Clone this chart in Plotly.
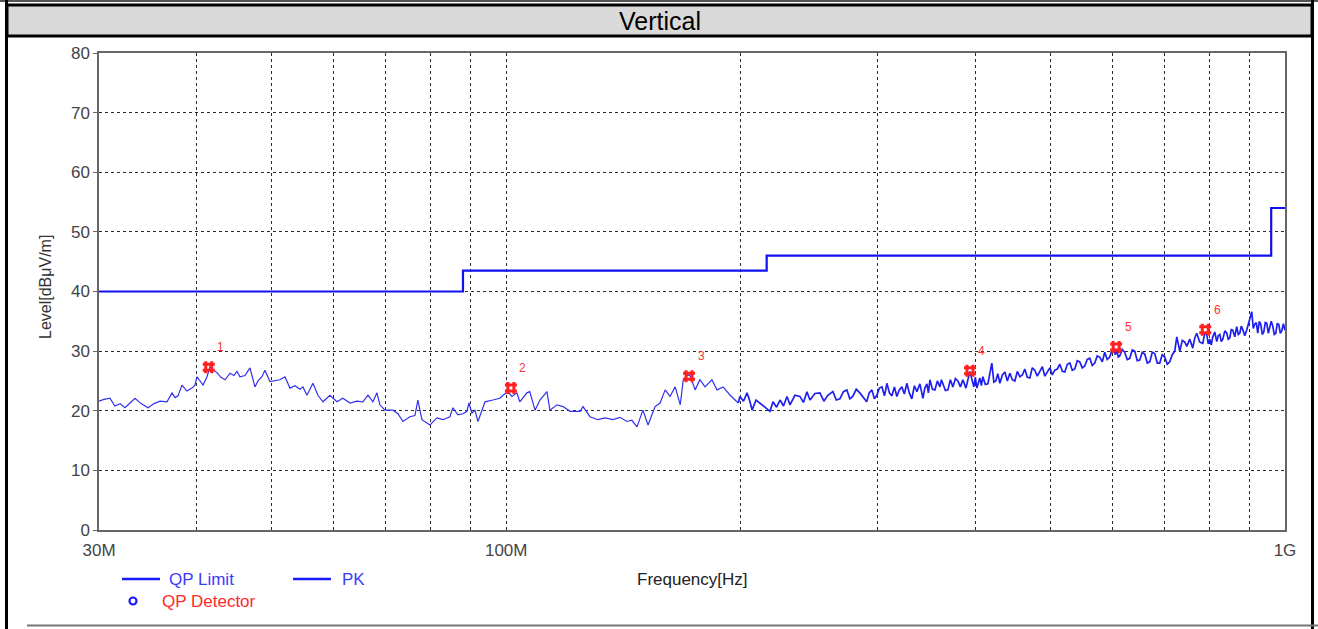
import math
import plotly.graph_objects as go

# ---------------- data ----------------
# PK trace, 30 MHz - 200 MHz
pk_freq_low_mhz = [
    30.0, 30.44, 30.99, 31.44, 31.93, 32.4, 32.88, 33.37, 33.97, 34.68,
    35.3, 35.93, 36.68, 37.23, 37.57, 37.9, 38.34, 38.91, 39.49, 39.84,
    40.08, 40.8, 41.29, 41.65, 42.02, 42.52, 43.03, 43.55, 44.19, 44.71,
    45.11, 45.51, 46.19, 46.88, 47.57, 48.0, 48.57, 49.0, 49.74, 50.48,
    51.22, 51.99, 52.76, 53.55, 54.34, 54.83, 55.48, 56.47, 57.31, 58.17,
    59.38, 60.63, 61.7, 63.0, 64.31, 65.46, 66.45, 67.43, 68.23, 68.84,
    69.86, 71.54, 72.6, 73.69, 75.22, 76.34, 77.02, 77.94, 79.8, 81.47,
    82.93, 84.67, 85.42, 86.69, 87.98, 89.03, 89.56, 90.36, 91.17, 91.99,
    93.92, 96.13, 98.15, 99.04, 100.5, 101.7, 103.2, 104.1, 106.3, 107.2,
    108.9, 110.5, 112.8, 113.8, 116.2, 118.3, 120.8, 124.4, 125.5, 128.1,
    131.1, 133.9, 137.1, 140.0, 142.9, 145.0, 147.2, 149.8, 152.1, 155.3,
    157.6, 160.0, 162.3, 164.8, 167.3, 168.8, 170.8, 172.1, 174.8, 177.3,
    180.0, 183.7, 186.5, 189.9, 193.9, 198.6,
]
pk_level_low = [
    21.6, 21.9, 22.1, 20.8, 21.2, 20.5, 21.3, 22.1, 21.2, 20.5,
    21.2, 21.6, 21.5, 23.0, 22.2, 22.5, 24.3, 23.3, 23.8, 24.3,
    25.7, 24.3, 25.7, 27.4, 26.9, 26.4, 25.6, 25.2, 26.3, 25.9,
    26.6, 25.7, 25.9, 27.2, 24.0, 25.0, 25.7, 26.8, 24.9, 25.0,
    25.2, 25.7, 23.8, 24.2, 23.6, 24.0, 22.6, 24.6, 22.6, 21.5,
    22.6, 21.5, 22.1, 21.3, 21.6, 21.5, 22.6, 21.5, 23.0, 21.0,
    20.1, 20.1, 19.5, 18.2, 19.0, 19.2, 21.8, 18.5, 17.6, 18.8,
    18.5, 19.0, 20.5, 19.3, 19.5, 19.9, 21.3, 19.6, 20.1, 18.2,
    21.5, 21.8, 22.1, 22.6, 23.2, 22.4, 23.0, 21.5, 23.0, 23.2,
    20.1, 21.8, 23.2, 20.1, 21.0, 20.7, 19.9, 19.9, 20.7, 19.0,
    18.5, 18.8, 18.5, 18.9, 18.2, 18.4, 17.3, 20.1, 17.6, 20.7,
    21.3, 23.5, 22.4, 24.0, 21.0, 25.2, 25.9, 26.0, 23.5, 25.2,
    24.0, 25.2, 23.5, 24.0, 22.6, 21.3,
]
# PK trace, 200 MHz - 1 GHz
pk_freq_high_mhz = [
    199.6, 201.7, 203.8, 205.3, 206.9, 209.3, 211.8, 214.9, 218.1, 220.1,
    222.4, 224.7, 227.0, 229.4, 231.4, 234.8, 238.3, 240.8, 243.3, 245.5,
    249.1, 252.8, 255.8, 258.8, 262.7, 265.4, 268.2, 271.0, 273.8, 276.2,
    278.6, 281.5, 284.5, 287.4, 290.3, 292.5, 294.8, 297.0, 299.2, 301.4,
    303.7, 306.0, 308.2, 310.5, 312.8, 315.1, 317.4, 319.7, 322.1, 324.5,
    326.9, 329.3, 331.8, 334.3, 336.8, 339.8, 342.8, 344.8, 346.9, 348.4,
    350.0, 352.6, 355.2, 357.8, 360.5, 362.1, 363.7, 366.4, 369.1, 371.8,
    374.6, 377.4, 380.2, 383.0, 385.8, 387.5, 389.3, 393.9, 398.5, 400.3,
    402.1, 405.7, 407.5, 409.3, 412.3, 415.4, 417.8, 420.3, 422.8, 425.3,
    427.8, 430.4, 433.6, 436.8, 440.0, 443.3, 446.6, 449.9, 453.2, 456.6,
    460.0, 463.3, 466.8, 470.3, 473.7, 477.2, 480.8, 484.4, 488.0, 491.6,
    495.2, 498.9, 502.6, 506.3, 510.1, 513.9, 517.7, 521.5, 525.4, 529.3,
    533.2, 537.1, 541.1, 545.1, 549.1, 553.2, 557.3, 561.5, 565.6, 569.8,
    574.0, 578.3, 582.6, 586.9, 591.2, 595.6, 599.1, 602.7, 605.4, 608.1,
    610.8, 613.5, 618.0, 622.6, 627.2, 631.9, 636.6, 641.3, 646.1, 650.9,
    655.7, 660.6, 665.5, 670.5, 675.4, 680.4, 685.4, 690.5, 695.6, 700.8,
    706.0, 711.3, 716.5, 721.8, 726.2, 732.7, 738.1, 743.6, 748.0, 754.6,
    761.3, 765.8, 770.3, 777.3, 784.2, 788.8, 793.5, 797.0, 800.6, 804.1,
    807.7, 812.5, 817.3, 821.0, 824.7, 828.3, 832.0, 837.0, 841.9, 845.6,
    849.3, 853.1, 856.9, 862.0, 867.0, 871.0, 874.9, 878.7, 882.6, 887.9,
    893.2, 898.4, 906.4, 910.4, 914.5, 918.6, 922.6, 926.8, 930.9, 935.0,
    939.2, 943.4, 947.5, 951.8, 956.0, 960.2, 964.5, 968.8, 973.1, 977.4,
    981.8, 986.2, 990.5, 995.2, 1000.0,
]
pk_level_high = [
    22.4, 21.6, 23.0, 21.8, 20.1, 21.8, 21.3, 20.6, 19.9, 21.5,
    20.6, 21.8, 20.8, 22.4, 21.0, 22.6, 22.4, 21.4, 23.2, 21.8,
    22.9, 23.0, 21.6, 22.6, 23.2, 21.8, 22.0, 23.2, 23.5, 22.0,
    22.4, 23.6, 23.0, 22.2, 21.5, 23.0, 23.5, 22.0, 22.6, 23.8,
    24.0, 22.5, 24.6, 23.0, 22.5, 24.0, 22.4, 23.5, 24.0, 22.8,
    24.6, 23.0, 22.0, 24.2, 23.2, 24.5, 22.1, 23.8, 24.5, 23.0,
    25.2, 23.6, 23.5, 25.0, 24.0, 25.2, 24.6, 23.4, 23.5, 25.2,
    24.0, 25.4, 25.0, 24.0, 25.2, 24.5, 23.8, 26.6, 24.0, 25.6,
    23.8, 25.5, 24.2, 25.7, 24.4, 24.5, 26.0, 28.0, 24.8, 25.0,
    26.2, 24.6, 26.0, 26.5, 25.0, 26.3, 25.2, 25.0, 26.6, 25.7,
    26.0, 27.0, 25.6, 25.5, 27.2, 26.8, 25.8, 26.6, 27.4, 25.8,
    26.5, 27.2, 26.0, 26.8, 27.0, 27.8, 26.6, 26.5, 27.8, 28.0,
    26.8, 27.0, 28.4, 28.2, 27.2, 27.5, 28.6, 28.8, 27.6, 28.0,
    29.2, 29.0, 28.2, 29.8, 28.6, 29.0, 30.0, 30.5, 29.4, 30.2,
    29.0, 29.2, 30.3, 29.8, 28.6, 28.8, 30.2, 30.0, 28.4, 28.5,
    29.8, 29.5, 28.0, 28.2, 29.8, 29.6, 28.0, 28.0, 29.4, 29.0,
    27.8, 28.2, 29.4, 30.0, 32.4, 30.0, 31.8, 31.5, 30.8, 32.0,
    30.5, 32.2, 33.0, 31.5, 31.3, 33.0, 32.8, 31.2, 32.0, 31.0,
    32.4, 33.2, 31.6, 32.6, 32.8, 31.6, 32.0, 33.4, 33.0, 32.0,
    32.2, 33.6, 33.5, 32.4, 34.1, 32.8, 33.0, 34.2, 33.6, 32.6,
    33.6, 34.8, 36.6, 33.8, 34.5, 34.8, 33.0, 35.0, 34.5, 32.8,
    33.2, 34.8, 34.7, 33.0, 33.8, 35.0, 34.2, 32.8, 33.0, 34.6,
    34.5, 33.0, 33.4, 34.6, 33.5,
]

limit_freq_mhz = [30, 88, 216, 960, 1000]
limit_level = [40, 43.5, 46, 54, 54]

qp_freq_mhz = [41.5, 101.4, 171.7, 394.0, 607.0, 790.0]
qp_level = [27.3, 23.8, 25.8, 26.7, 30.7, 33.6]
qp_labels = ["1", "2", "3", "4", "5", "6"]

x_tick_vals = [30, 40, 50, 60, 70, 80, 90, 100, 200, 300, 400, 500, 600, 700, 800, 900, 1000]
x_tick_text = ["30M", "", "", "", "", "", "", "100M", "", "", "", "", "", "", "", "", "1G"]
y_tick_vals = [0, 10, 20, 30, 40, 50, 60, 70, 80]

# ---------------- geometry helpers (pixels -> paper) ----------------
W, H = 1318, 629
PL, PR, PT, PB = 99, 1285, 53, 530


def px(x):
    return (x - PL) / (PR - PL)


def py(y):
    return (PB - y) / (PB - PT)


FONT = "Liberation Sans, Arial, sans-serif"
BLUE = "#1a1aff"

fig = go.Figure()

fig.add_trace(go.Scatter(
    x=limit_freq_mhz, y=limit_level, mode="lines", line_shape="hv",
    line=dict(color="#1010f0", width=2.2), name="QP Limit", hoverinfo="skip"))

# PK: thin, sparse part below 200 MHz
fig.add_trace(go.Scatter(
    x=pk_freq_low_mhz, y=pk_level_low, mode="lines",
    line=dict(color="#3030ee", width=1.2), name="PK"))
# PK: dense part above 200 MHz (joined to the last low point)
fig.add_trace(go.Scatter(
    x=pk_freq_low_mhz[-1:] + pk_freq_high_mhz, y=pk_level_low[-1:] + pk_level_high,
    mode="lines", line=dict(color="#2020ee", width=1.7), name="PK", showlegend=False))

fig.add_trace(go.Scatter(
    x=qp_freq_mhz, y=qp_level, mode="markers",
    marker=dict(symbol="hash-open", size=12, color="#ff2020",
                line=dict(color="#ff2020", width=3)),
    name="QP Detector"))

annotations = []
for f, lv, lab in zip(qp_freq_mhz, qp_level, qp_labels):
    annotations.append(dict(x=math.log10(f), y=lv, xref="x", yref="y", text=lab,
                            showarrow=False, xshift=12, yshift=20,
                            xanchor="center", yanchor="middle",
                            font=dict(family=FONT, size=12, color="#ff3030")))


def note(x, y, text, size, color, xanchor="center", angle=0):
    return dict(x=px(x), y=py(y), xref="paper", yref="paper", text=text, showarrow=False,
                xanchor=xanchor, yanchor="middle", textangle=angle,
                font=dict(family=FONT, size=size, color=color))


annotations += [
    note(660, 21, "Vertical", 25, "black"),
    note(167, 579, "QP Limit", 17, "#3b3bff", "left"),
    note(340, 579, "PK", 17, "#3b3bff", "left"),
    note(160, 601, "QP Detector", 17, "#ff2a2a", "left"),
    note(692, 579, "Frequency[Hz]", 17, "#222"),
    note(45, 287, "Level[dBμV/m]", 16, "#333", angle=-90),
]

# header & frame
shapes = [
    dict(type="rect", xref="paper", yref="paper", x0=px(7), x1=px(1312), y0=py(36), y1=py(5),
         fillcolor="#d9d9d9", line=dict(color="black", width=3), layer="below"),
    dict(type="line", xref="paper", yref="paper", x0=px(0), x1=px(1318), y0=py(1), y1=py(1),
         line=dict(color="#555", width=2)),
    dict(type="line", xref="paper", yref="paper", x0=px(6.5), x1=px(6.5), y0=py(0), y1=py(629),
         line=dict(color="black", width=3)),
    dict(type="line", xref="paper", yref="paper", x0=px(1312.5), x1=px(1312.5), y0=py(0), y1=py(629),
         line=dict(color="black", width=3)),
    dict(type="line", xref="paper", yref="paper", x0=px(27), x1=px(1318), y0=py(625.5), y1=py(625.5),
         line=dict(color="#777", width=2)),
    # legend samples
    dict(type="line", xref="paper", yref="paper", x0=px(122), x1=px(160), y0=py(579), y1=py(579),
         line=dict(color=BLUE, width=2.5)),
    dict(type="line", xref="paper", yref="paper", x0=px(293), x1=px(331), y0=py(579), y1=py(579),
         line=dict(color=BLUE, width=2.5)),
    dict(type="circle", xref="paper", yref="paper", x0=px(129.5), x1=px(136.5), y0=py(604.5), y1=py(597.5),
         line=dict(color=BLUE, width=2.2)),
]

fig.update_layout(
    width=W, height=H, autosize=False,
    margin=dict(l=PL, r=W - PR, t=PT, b=H - PB, pad=0),
    paper_bgcolor="white", plot_bgcolor="white",
    showlegend=False,
    font=dict(family=FONT, size=14, color="#333"),
    shapes=shapes, annotations=annotations,
    xaxis=dict(type="log", range=[math.log10(30), math.log10(1000)],
               tickmode="array", tickvals=x_tick_vals, ticktext=x_tick_text,
               showgrid=True, gridcolor="#2a2a2a", griddash="dot", gridwidth=1,
               showline=True, linecolor="#666", linewidth=1.5, mirror=True,
               ticks="", zeroline=False, ticklabelstandoff=4,
               tickfont=dict(family=FONT, size=17, color="#444")),
    yaxis=dict(range=[0, 80], tickmode="array", tickvals=y_tick_vals,
               showgrid=True, gridcolor="#2a2a2a", griddash="dot", gridwidth=1,
               showline=True, linecolor="#666", linewidth=1.5, mirror=True,
               ticks="outside", ticklen=4, tickcolor="#666", zeroline=False,
               tickfont=dict(family=FONT, size=17, color="#444")),
)

fig.write_html("out.html", config={"displayModeBar": False},
               post_script="document.body.style.margin='0';document.body.style.overflow='hidden';")
